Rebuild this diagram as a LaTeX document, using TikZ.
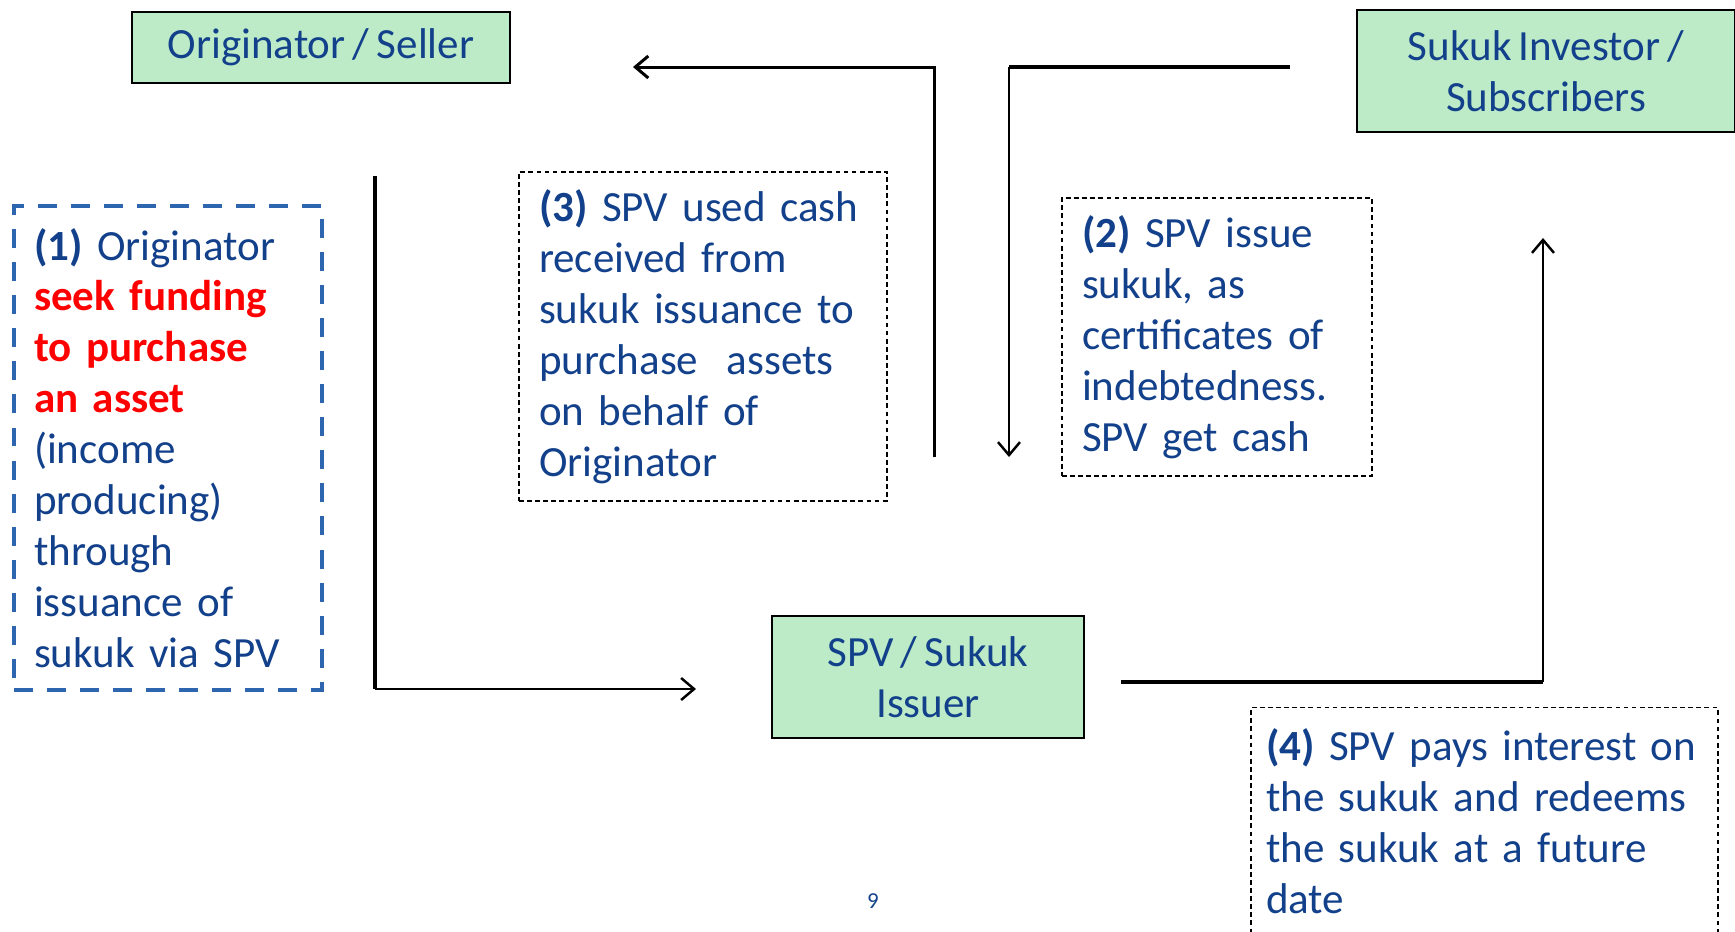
\documentclass[tikz,border=0pt]{standalone}
\usepackage{fontspec}
\setmainfont{Carlito}[WordSpace=0.75]
\usetikzlibrary{arrows.meta}
\definecolor{txtblue}{RGB}{18,64,138}
\definecolor{boxgreen}{RGB}{189,235,200}
\definecolor{dashblue}{RGB}{46,101,175}
\tikzset{
  greenbox/.style={draw=black, line width=1.2pt, fill=boxgreen, text=txtblue, align=center, inner sep=0pt},
  notebox/.style={draw=black, line width=0.7pt, dash pattern=on 2.7pt off 1.9pt, text=txtblue, align=left, inner xsep=0.4cm, inner ysep=0pt},
  bluenote/.style={notebox, draw=dashblue, line width=2.3pt, dash pattern=on 10.8pt off 8pt},
  heavyline/.style={line width=2.6pt},
  lightline/.style={line width=1.4pt}
}
\newcommand{\stepno}[1]{\textbf{(#1)}}
\begin{document}
\begin{tikzpicture}[x=0.02cm, y=-0.02cm, font=\fontsize{24.5pt}{29pt}\selectfont, line join=miter, >={Straight Barb[length=2.6mm,width=4.4mm]}]
	\useasboundingbox (0,0) rectangle (1735,931);
	% parties
	\node[greenbox, minimum width=7.56cm, minimum height=1.42cm] (orig) at (321,47.5) {Originator / Seller};
	\node[greenbox, minimum width=7.56cm, minimum height=2.44cm] (inv) at (1546,71) {Sukuk Investor /\\ Subscribers};
	\node[greenbox, minimum width=6.24cm, minimum height=2.44cm] (spv) at (928,677) {SPV / Sukuk\\ Issuer};
	% the four steps
	\node[bluenote, text width=5.36cm, minimum height=9.68cm] (stepone) at (168,448) {\stepno{1} Originator\\ \textcolor{red}{\textbf{seek funding}}\\ \textcolor{red}{\textbf{to purchase}}\\ \textcolor{red}{\textbf{an asset}}\\ (income\\ producing)\\ through\\ issuance of\\ sukuk via SPV};
	\node[notebox, text width=5.4cm, minimum height=5.56cm] (steptwo) at (1217,337) {\stepno{2} SPV issue\\ sukuk, as\\ certificates of\\ indebtedness.\\ SPV get cash};
	\node[notebox, text width=6.56cm, minimum height=6.58cm] (stepthree) at (703,336.5) {\stepno{3} SPV used cash\\ received from\\ sukuk issuance to\\ purchase~ assets\\ on behalf of\\ Originator};
	\node[notebox, inner xsep=0.3cm, text width=8.74cm, minimum height=4.55cm] (stepfour) at (1484.5,821.5) {\stepno{4} SPV pays interest on\\ the sukuk and redeems\\ the sukuk at a future\\ date};
	\node[text=txtblue, font=\fontsize{13pt}{15pt}\selectfont] (pagenum) at (873,901) {9};
	% flow lines
	\coordinate (oneA) at (375,176); \coordinate (oneB) at (375,689); \coordinate (oneC) at (696,689);
	\coordinate (twoA) at (1290,67); \coordinate (twoB) at (1009,67); \coordinate (twoC) at (1009,457);
	\coordinate (threeA) at (934,457); \coordinate (threeB) at (633,67);
	\coordinate (fourA) at (1121,682); \coordinate (fourB) at (1543,682); \coordinate (fourC) at (1543,238);
	\draw[heavyline] (oneA)--(oneB);
	\draw[lightline,->] (oneB)--(oneC);
	\draw[heavyline] (twoA)--(twoB);
	\draw[lightline,->] (twoB)--(twoC);
	\draw[line width=1.7pt,->] (threeA) |- (threeB);
	\draw[heavyline] (fourA)--(fourB);
	\draw[lightline,->] (fourB)--(fourC);
\end{tikzpicture}
\end{document}
